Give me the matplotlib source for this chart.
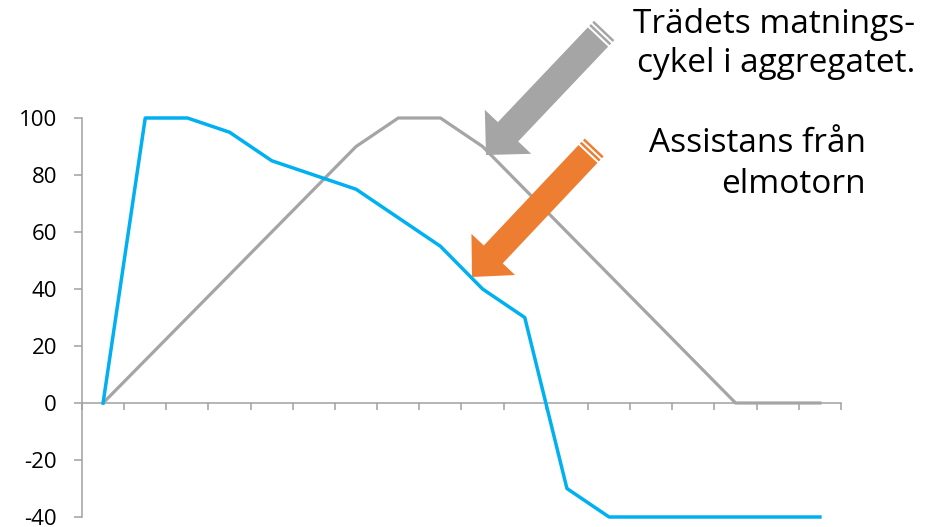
import matplotlib
matplotlib.use("Agg")
import matplotlib.pyplot as plt
import numpy as np
from matplotlib.patches import Polygon

plt.rcParams['font.family'] = ['Open Sans', 'DejaVu Sans']
plt.rcParams['axes.unicode_minus'] = False

# 18 steps of the cycle
steps = list(range(18))
# tree feeding cycle in the unit (grey)
feed_cycle = [0, 15, 30, 45, 60, 75, 90, 100, 100, 90, 75, 60, 45, 30, 15, 0, 0, 0]
# assistance from the electric motor (blue)
motor_assist = [0, 100, 100, 95, 85, 80, 75, 65, 55, 40, 30, -30, -40, -40, -40, -40, -40, -40]
y_ticks = [-40, -20, 0, 20, 40, 60, 80, 100]

label_feed = ["Trädets matnings-", "cykel i aggregatet."]
label_motor = ["Assistans från", "elmotorn"]

AXIS_GRAY = "#A0A0A0"


def block_arrow(ax, tail, tip, w, hw, hl, color):
    tail = np.array(tail, float)
    tip = np.array(tip, float)
    u = (tip - tail) / np.linalg.norm(tip - tail)
    n = np.array([-u[1], u[0]])
    base = tip - hl * u
    pts = [tail + n * w / 2, base + n * w / 2, base + n * hw / 2, tip,
           base - n * hw / 2, base - n * w / 2, tail - n * w / 2]
    ax.add_patch(Polygon(pts, closed=True, color=color, lw=0))
    # striped tail
    gap, stripe = 2.0, 2.5
    for k in range(2):
        a = tail - u * (gap * (k + 1) + stripe * k)
        b = a - u * stripe
        ax.add_patch(Polygon([a + n * w / 2, b + n * w / 2, b - n * w / 2, a - n * w / 2],
                             closed=True, color=color, lw=0))


fig = plt.figure(figsize=(9.29, 5.27), dpi=100)
ax = fig.add_axes([82 / 929, 1 - 517 / 527, 759 / 929, 399 / 527])

ax.plot(steps, feed_cycle, color="#A5A5A5", lw=2.3, clip_on=False, zorder=3)
ax.plot(steps, motor_assist, color="#00B0F0", lw=2.5, clip_on=False, zorder=4)

ax.set_xlim(-0.5, 17.5)
ax.set_ylim(-40, 100)
ax.set_yticks(y_ticks)
ax.set_xticks(np.arange(-0.5, 18, 1))
ax.set_xticklabels([])

for s in ["top", "right"]:
    ax.spines[s].set_visible(False)
ax.spines["bottom"].set_position(("data", 0))
for s in ["left", "bottom"]:
    ax.spines[s].set_color(AXIS_GRAY)
    ax.spines[s].set_linewidth(1.1)
ax.tick_params(axis="y", length=6, width=1.1, color=AXIS_GRAY, pad=12, labelsize=16)
ax.tick_params(axis="x", length=5, width=1.1, color=AXIS_GRAY, direction="out")

# overlay in pixel coordinates for arrows and notes
ov = fig.add_axes([0, 0, 1, 1], zorder=5)
ov.set_xlim(0, 929)
ov.set_ylim(527, 0)
ov.axis("off")
ov.patch.set_alpha(0)

block_arrow(ov, (598, 37), (486, 155), 28, 64, 32, "#A5A5A5")
block_arrow(ov, (588, 154), (472, 277), 26, 60, 31, "#ED7D31")

ov.text(915, 33, label_feed[0], ha="right", va="baseline", fontsize=24)
ov.text(915, 72, label_feed[1], ha="right", va="baseline", fontsize=24)
ov.text(866, 152, label_motor[0], ha="right", va="baseline", fontsize=24)
ov.text(866, 193, label_motor[1], ha="right", va="baseline", fontsize=24)

fig.savefig("out.png", dpi=100)
